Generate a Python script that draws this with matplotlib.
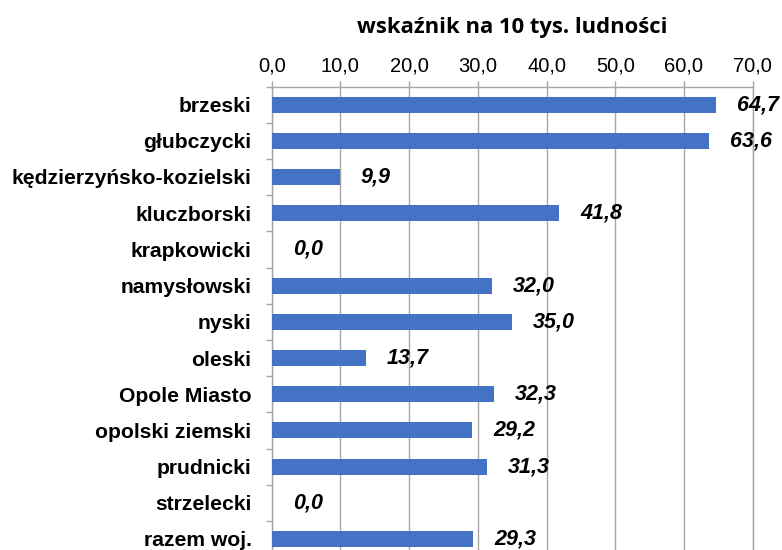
import matplotlib
matplotlib.use("Agg")
import matplotlib.pyplot as plt
import numpy as np
from matplotlib.ticker import FixedLocator, NullFormatter

categories = ["brzeski", "głubczycki", "kędzierzyńsko-kozielski", "kluczborski",
              "krapkowicki", "namysłowski", "nyski", "oleski", "Opole Miasto",
              "opolski ziemski", "prudnicki", "strzelecki", "razem woj."]
values = [64.7, 63.6, 9.9, 41.8, 0.0, 32.0, 35.0, 13.7, 32.3, 29.2, 31.3, 0.0, 29.3]
xticks = [0, 10, 20, 30, 40, 50, 60, 70]
title = "wskaźnik na 10 tys. ludności"

W, H = 782, 550
fig = plt.figure(figsize=(W / 100, H / 100), dpi=100)
left, right = 271.7, 752.7
top = 86.5
step = 36.2
n = len(categories)
ax = fig.add_axes([left / W, 1 - (top + n * step) / H, (right - left) / W, n * step / H])

y = np.arange(n)
ax.barh(y, values, height=0.44, color="#4472C4", zorder=3)
ax.set_ylim(n - 0.5, -0.5)
ax.set_xlim(0, 70)

grid_c = "#A6A6A6"
ax.xaxis.tick_top()
ax.set_xticks(xticks)
ax.set_xticklabels([f"{v:.1f}".replace(".", ",") for v in xticks],
                   fontsize=14.5, family="Liberation Sans")
ax.tick_params(axis="x", which="major", direction="out", length=4, color=grid_c,
               pad=4, width=1)
ax.grid(axis="x", color=grid_c, linewidth=1, zorder=0)

ax.set_yticks(y)
ax.set_yticklabels(categories, fontsize=15.2, fontweight="bold", family="Liberation Sans")
ax.tick_params(axis="y", which="major", length=0, pad=14.5)
ax.yaxis.set_minor_locator(FixedLocator(np.arange(-0.5, n + 0.5, 1)))
ax.yaxis.set_minor_formatter(NullFormatter())
ax.tick_params(axis="y", which="minor", direction="out", length=4.5, color=grid_c, width=1)

ax.spines["bottom"].set_visible(False)
for s in ["left", "top", "right"]:
    ax.spines[s].set_color(grid_c)
    ax.spines[s].set_linewidth(1)

for yi, v in zip(y, values):
    ax.annotate(f"{v:.1f}".replace(".", ","), xy=(v, yi), xytext=(21, 0),
                textcoords="offset pixels", ha="left", va="center",
                fontsize=15.5, fontweight="bold", fontstyle="italic",
                family="Liberation Sans", annotation_clip=False, zorder=4)

fig.text((left + right) / 2 / W, 1 - 27 / H, title, ha="center", va="center",
         fontsize=15.8, fontweight="bold", family="Open Sans")

fig.savefig("out.png", dpi=100)
